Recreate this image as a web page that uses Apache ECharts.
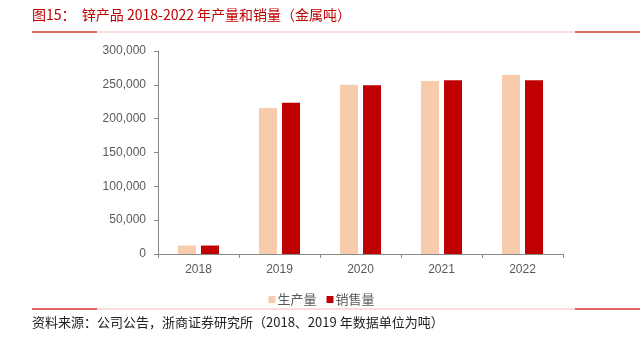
<!DOCTYPE html>
<html><head><meta charset="utf-8">
<script src="https://cdn.jsdelivr.net/npm/echarts@6/dist/echarts.min.js"></script>
<style>html,body{margin:0;padding:0;background:#fff}#c{width:643px;height:339px}</style>
</head><body><div id="c"></div>
<script>
const categories = ['2018', '2019', '2020', '2021', '2022'];
const production = [12500, 215800, 250200, 255700, 264500];
const sales = [12500, 223600, 249300, 256700, 256700];
const seriesNames = ['生产量', '销售量'];
const yTicks = [0, 50000, 100000, 150000, 200000, 250000, 300000];
const titleText = '图15：  锌产品 2018-2022 年产量和销量（金属吨）';
const sourceText = '资料来源：公司公告，浙商证券研究所（2018、2019 年数据单位为吨）';

const chart = echarts.init(document.getElementById('c'), null, {renderer: 'canvas'});
const cjk = '"Noto Sans CJK SC", "Noto Sans", sans-serif';
function fmt(v){ return v.toLocaleString('en-US'); }
chart.setOption({
  animation: false,
  backgroundColor: '#fff',
  grid: {left: 158, right: 80, top: 51, bottom: 85, containLabel: false},
  legend: {
    data: seriesNames, left: 'center', top: 288, icon: 'rect',
    itemWidth: 7, itemHeight: 7, itemGap: 10,
    textStyle: {fontSize: 13, color: '#595959', fontFamily: cjk, padding: [0,0,0,-3]}
  },
  xAxis: {
    type: 'category', data: categories,
    axisLine: {lineStyle: {color: '#898989', width: 1}},
    axisTick: {show: true, length: 4, lineStyle: {color: '#898989'}},
    axisLabel: {fontSize: 12, color: '#595959', margin: 10, fontFamily: '"Liberation Sans", sans-serif'}
  },
  yAxis: {
    type: 'value', min: yTicks[0], max: yTicks[yTicks.length-1], interval: 50000,
    splitLine: {show: false},
    axisLine: {show: true, lineStyle: {color: '#898989', width: 1}},
    axisTick: {show: true, length: 4, lineStyle: {color: '#898989'}},
    axisLabel: {fontSize: 12, color: '#595959', margin: 12, formatter: fmt, fontFamily: '"Liberation Sans", sans-serif'}
  },
  series: [
    {name: seriesNames[0], type: 'bar', data: production, barWidth: 18, barGap: '28%',
     itemStyle: {color: '#f8cbad'}},
    {name: seriesNames[1], type: 'bar', data: sales, barWidth: 18, barGap: '28%',
     itemStyle: {color: '#c00000'}}
  ],
  graphic: [
    {type: 'text', left: 32, top: 8, style: {text: titleText, fill: '#c00000', font: '14px ' + cjk}},
    {type: 'line', shape: {x1: 32, y1: 32, x2: 640, y2: 32}, style: {stroke: '#f2b8b8', lineWidth: 1}},
    {type: 'line', shape: {x1: 32, y1: 32, x2: 97, y2: 32}, style: {stroke: '#e06666', lineWidth: 2}},
    {type: 'line', shape: {x1: 575, y1: 32, x2: 640, y2: 32}, style: {stroke: '#e06666', lineWidth: 2}},
    {type: 'line', shape: {x1: 32, y1: 309, x2: 640, y2: 309}, style: {stroke: '#f2b8b8', lineWidth: 1}},
    {type: 'line', shape: {x1: 32, y1: 309, x2: 97, y2: 309}, style: {stroke: '#e06666', lineWidth: 2}},
    {type: 'line', shape: {x1: 575, y1: 309, x2: 640, y2: 309}, style: {stroke: '#e06666', lineWidth: 2}},
    {type: 'text', left: 32, top: 316, style: {text: sourceText, fill: '#222', font: '13px ' + cjk}}
  ]
});
</script></body></html>
